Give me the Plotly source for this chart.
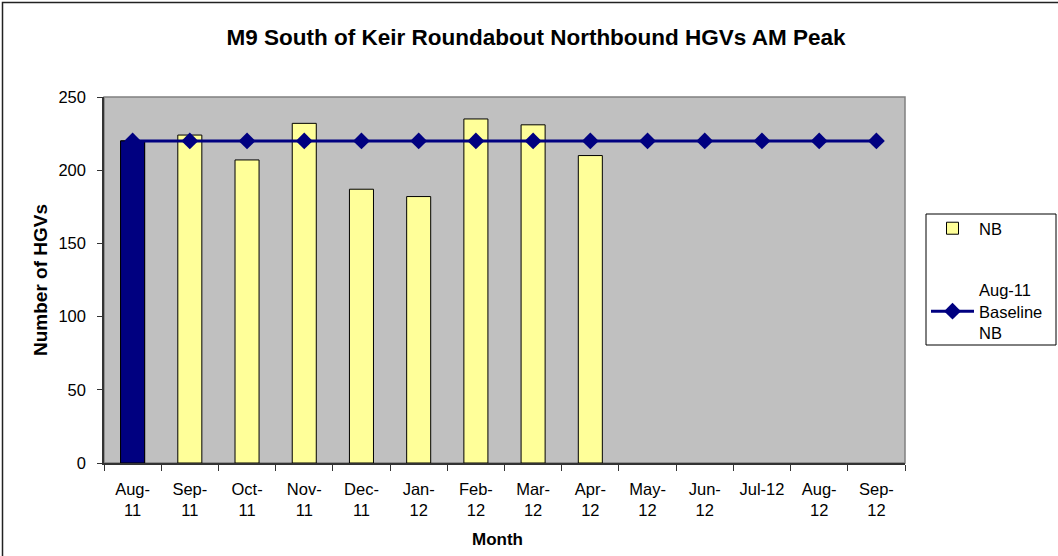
import plotly.graph_objects as go

months = ["Aug-<br>11", "Sep-<br>11", "Oct-<br>11", "Nov-<br>11", "Dec-<br>11", "Jan-<br>12",
          "Feb-<br>12", "Mar-<br>12", "Apr-<br>12", "May-<br>12", "Jun-<br>12", "Jul-12",
          "Aug-<br>12", "Sep-<br>12"]
nb_values = [220, 224, 207, 232, 187, 182, 235, 231, 210, None, None, None, None, None]
baseline_values = [220] * 14
baseline_month_index = 0

W, H = 1058, 556
L, R, T, B = 104, 1058 - 905, 97, 556 - 463
PW, PH = W - L - R, H - T - B

def px(x):
    return (x - L) / PW

def py(y):
    return (H - B - y) / PH

FONT = "Liberation Sans, Arial, sans-serif"

fig = go.Figure()
fig.add_trace(go.Bar(
    x=months, y=nb_values, name="NB", width=0.42,
    marker=dict(color="#FFFF99", line=dict(color="#000000", width=1)),
    legendgroup="a",
))
highlight = [v if i == baseline_month_index else None for i, v in enumerate(nb_values)]
fig.add_trace(go.Bar(
    x=months, y=highlight, name="NB", width=0.42, showlegend=False,
    marker=dict(color="#000080", line=dict(color="#000000", width=1)),
))
fig.add_trace(go.Scatter(
    x=months, y=baseline_values, name="Aug-11<br>Baseline<br>NB",
    mode="lines+markers", line=dict(color="#000080", width=3),
    marker=dict(symbol="diamond", size=13, color="#000080"),
    legendgroup="b",
))

fig.update_layout(
    width=W, height=H,
    margin=dict(l=L, r=R, t=T, b=B, pad=0, autoexpand=False),
    paper_bgcolor="white", plot_bgcolor="#C0C0C0",
    barmode="overlay",
    font=dict(family=FONT, size=16.5, color="black"),
    title=dict(text="<b>M9 South of Keir Roundabout Northbound HGVs AM Peak</b>",
               x=536 / W, xanchor="center", xref="container",
               y=1 - 37 / H, yanchor="middle", yref="container",
               font=dict(size=22.5, family=FONT)),
    legend=dict(x=px(926), xanchor="left", y=py(211), yanchor="top",
                borderwidth=0, bgcolor="rgba(0,0,0,0)",
                font=dict(size=16.5, family=FONT), tracegroupgap=37,
                traceorder="grouped", itemwidth=43),
    xaxis=dict(showgrid=False, ticks="outside", ticklen=6, tickcolor="#333",
               tickson="boundaries", showline=True, linecolor="#333", linewidth=1.5,
               tickangle=0, tickfont=dict(size=16.5), range=[-0.5, 13.5],
               ticklabelstandoff=10),
    yaxis=dict(showgrid=False, range=[0, 250], tickvals=[0, 50, 100, 150, 200, 250],
               ticks="outside", ticklen=5, tickcolor="#333", showline=True,
               linecolor="#333", linewidth=1.5, zeroline=False,
               ticklabelstandoff=8, tickfont=dict(size=16.5)),
    showlegend=True,
)

fig.add_shape(type="rect", xref="paper", yref="paper", x0=0, x1=1, y0=0, y1=1,
              line=dict(color="#808080", width=1.5), layer="below")
fig.add_shape(type="rect", xref="paper", yref="paper",
              x0=px(2.5), x1=px(1080), y0=py(580), y1=py(2.5),
              line=dict(color="#222222", width=1.5))
# legend frame
fig.add_shape(type="rect", xref="paper", yref="paper",
              x0=px(926), x1=px(1056), y0=py(345), y1=py(214),
              line=dict(color="#000000", width=1))

fig.add_annotation(text="<b>Number of HGVs</b>", xref="paper", yref="paper",
                   x=px(40), y=py(280), textangle=-90, showarrow=False,
                   xanchor="center", yanchor="middle", font=dict(size=19, family=FONT))
fig.add_annotation(text="<b>Month</b>", xref="paper", yref="paper",
                   x=px(497), y=py(539), showarrow=False,
                   xanchor="center", yanchor="middle", font=dict(size=17, family=FONT))

fig.write_html("out.html", config={"displayModeBar": False},
               post_script="document.body.style.margin='0';")
